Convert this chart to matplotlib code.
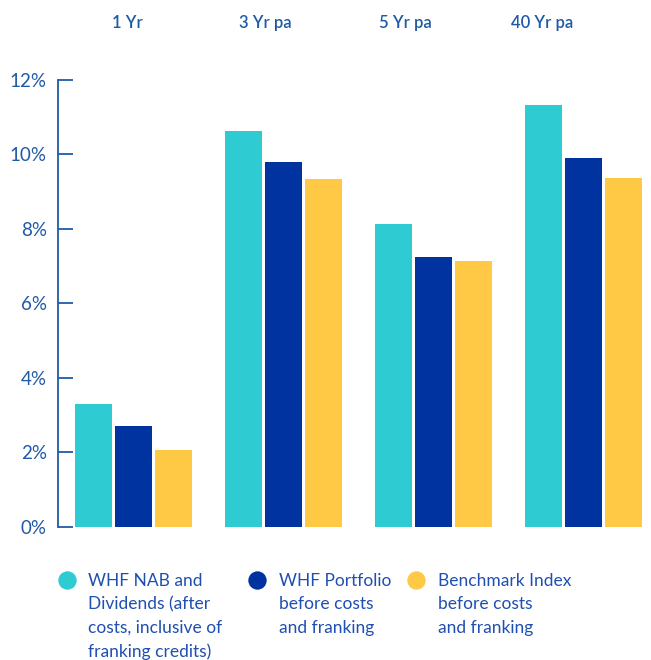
import numpy as np
import matplotlib.pyplot as plt

# data
periods = ['1 Yr', '3 Yr pa', '5 Yr pa', '40 Yr pa']
series = [
    'WHF NAB and\nDividends (after\ncosts, inclusive of\nfranking credits)',
    'WHF Portfolio\nbefore costs\nand franking',
    'Benchmark Index\nbefore costs\nand franking',
]
nab_div = [3.30, 10.63, 8.13, 11.33]
portfolio = [2.71, 9.80, 7.25, 9.91]
benchmark = [2.06, 9.34, 7.14, 9.37]
yticks = [0, 2, 4, 6, 8, 10, 12]

colors = ['#2ECBD2', '#0033A0', '#FFC845']
blue = '#1F5AA6'
plt.rcParams['font.family'] = ['Lato', 'DejaVu Sans']

W, H = 651, 660
fig = plt.figure(figsize=(W / 100, H / 100), dpi=100)

# main axes placed in pixel terms
left, right, top, bottom = 58, 651, 80, 526.7
ax = fig.add_axes([left / W, 1 - bottom / H, (right - left) / W, (bottom - top) / H])

x = np.arange(len(periods))
bw = 37 / 150
step = 40 / 150
for k, vals in enumerate([nab_div, portfolio, benchmark]):
    ax.bar(x + (k - 1) * step, vals, width=bw, color=colors[k], linewidth=0)

ax.set_xlim(-75.5 / 150, 3 + 67 / 150)
ax.set_ylim(0, 12)
ax.set_yticks(yticks)
ax.set_yticklabels([f'{v}%' for v in yticks], color=blue, fontsize=13.5)
ax.tick_params(axis='y', direction='in', length=11, width=1.3, color=blue, pad=8)
ax.set_xticks([])
for s in ['top', 'right', 'bottom']:
    ax.spines[s].set_visible(False)
ax.spines['left'].set_color(blue)
ax.spines['left'].set_linewidth(1.3)

# period headers
header_x = [127.5, 265.5, 405, 542]
for hx, lab in zip(header_x, periods):
    fig.text(hx / W, 1 - 23 / H, lab, ha='center', va='center',
             color=blue, fontsize=12, fontweight='semibold')

# legend drawn in pixel space
lg = fig.add_axes([0, 0, 1, 1], facecolor='none')
lg.set_xlim(0, W)
lg.set_ylim(H, 0)
lg.axis('off')
dot_x = [67, 257, 416]
text_x = [88, 279, 438]
for k in range(3):
    lg.scatter([dot_x[k]], [580], s=175, color=colors[k], linewidth=0)
    lg.text(text_x[k], 573, series[k], ha='left', va='top', color='#1F4FB0',
            fontsize=12.5, linespacing=1.57)

fig.savefig('out.png', dpi=100)
